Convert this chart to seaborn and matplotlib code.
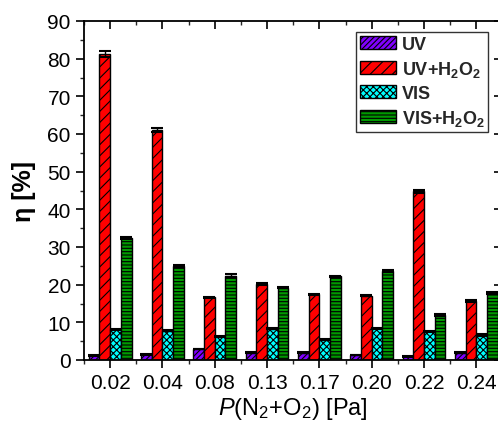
import matplotlib
matplotlib.use("Agg")
import matplotlib.pyplot as plt
from matplotlib.patches import Patch
from matplotlib.ticker import MultipleLocator, FixedLocator
import seaborn as sns
import pandas as pd

# ---- data ----
categories = ['0.02', '0.04', '0.08', '0.13', '0.17', '0.20', '0.22', '0.24']
uv = [1.2, 1.5, 2.9, 1.9, 1.9, 1.3, 1.0, 1.9]
uv_h2o2 = [81.3, 61.0, 16.6, 20.2, 17.4, 17.1, 44.8, 15.6]
vis = [8.1, 7.8, 6.3, 8.3, 5.4, 8.4, 7.6, 6.6]
vis_h2o2 = [32.4, 25.0, 22.4, 19.2, 22.2, 23.7, 12.0, 17.8]
uv_err = [0.1, 0.1, 0.1, 0.1, 0.1, 0.1, 0.1, 0.1]
uv_h2o2_err = [0.8, 0.5, 0.2, 0.2, 0.2, 0.2, 0.4, 0.2]
vis_err = [0.2, 0.2, 0.2, 0.2, 0.2, 0.2, 0.2, 0.2]
vis_h2o2_err = [0.3, 0.3, 0.3, 0.2, 0.2, 0.3, 0.2, 0.2]
series_names = ['UV', 'UV+H$_\\mathbf{2}$O$_\\mathbf{2}$', 'VIS', 'VIS+H$_\\mathbf{2}$O$_\\mathbf{2}$']
series_keys = ['UV', 'UV+H2O2', 'VIS', 'VIS+H2O2']
colors = ['#8000FF', '#FF0000', '#00FFFF', '#009900']
hatches = ['//////', '///', 'xxxxx', '-----']

values = [uv, uv_h2o2, vis, vis_h2o2]
errors = [uv_err, uv_h2o2_err, vis_err, vis_h2o2_err]

rows = []
for key, vals in zip(series_keys, values):
    for c, v in zip(categories, vals):
        rows.append({'P': c, 'eta': v, 'series': key})
df = pd.DataFrame(rows)

sns.set_theme(style='white')
plt.rcParams['font.family'] = ['Liberation Sans', 'DejaVu Sans']
plt.rcParams['mathtext.fontset'] = 'custom'
plt.rcParams['mathtext.rm'] = 'Liberation Sans'
plt.rcParams['mathtext.it'] = 'Liberation Sans:italic'
plt.rcParams['mathtext.bf'] = 'Liberation Sans:bold'
plt.rcParams['hatch.linewidth'] = 0.8
plt.rcParams['hatch.color'] = 'black'

fig = plt.figure(figsize=(4.98, 4.27), dpi=100)
ax = fig.add_axes([84 / 498, 1 - 361 / 427, 418.4 / 498, (361 - 22) / 427])

sns.barplot(data=df, x='P', y='eta', hue='series', order=categories,
            hue_order=series_keys, palette=colors, width=0.82,
            edgecolor='black', linewidth=1.0, errorbar=None,
            saturation=1, legend=False, ax=ax)

for cont, h, errs in zip(ax.containers, hatches, errors):
    for patch, e in zip(cont.patches, errs):
        patch.set_hatch(h)
        x = patch.get_x() + patch.get_width() / 2
        ax.errorbar(x, patch.get_height(), yerr=e, fmt='none', ecolor='black',
                    elinewidth=1.0, capsize=4, capthick=1.5, zorder=5)

ax.set_xlim(-0.5, 7.5)
ax.set_ylim(0, 90)
ax.yaxis.set_major_locator(MultipleLocator(10))
ax.yaxis.set_minor_locator(MultipleLocator(5))
ax.xaxis.set_minor_locator(FixedLocator([i + 0.5 for i in range(-1, 8)]))

for s in ax.spines.values():
    s.set_visible(True)
    s.set_color('black')
    s.set_linewidth(1.3)

ax.tick_params(axis='both', which='major', labelsize=15, colors='black', width=1.2)
ax.tick_params(axis='x', which='major', direction='out', length=6, top=True, bottom=True)
ax.tick_params(axis='x', which='minor', direction='out', length=3, top=True, bottom=True, width=1.0)
ax.tick_params(axis='y', which='major', direction='out', length=6, left=True, right=True)
ax.tick_params(axis='y', which='minor', direction='out', length=3, left=True, right=True, width=1.0)
# top and right ticks point inward
for t in ax.xaxis.get_major_ticks() + ax.xaxis.get_minor_ticks():
    t.tick2line.set_marker(matplotlib.lines.TICKDOWN)
for t in ax.yaxis.get_major_ticks() + ax.yaxis.get_minor_ticks():
    t.tick2line.set_marker(matplotlib.lines.TICKLEFT)

ax.set_xlabel(r'$\mathit{P}$(N$_2$+O$_2$) [Pa]', fontsize=17, labelpad=2, color='black')
ax.set_ylabel('η [%]', fontsize=18, fontweight='bold', labelpad=8, color='black')

handles = [Patch(facecolor=c, edgecolor='black', hatch=h, label=n, linewidth=1.0)
           for c, h, n in zip(colors, hatches, series_names)]
leg = fig.legend(handles=handles, loc='upper right', bbox_to_anchor=(488 / 498, 1 - 33 / 427),
                 bbox_transform=fig.transFigure, frameon=True, fancybox=False,
                 prop={'weight': 'bold', 'size': 13}, handlelength=2.0, handleheight=0.72,
                 handletextpad=0.3, labelspacing=0.34, borderpad=0.2, borderaxespad=0)
leg.get_frame().set_edgecolor('black')
leg.get_frame().set_linewidth(1.0)

fig.savefig('out.png', dpi=100)
